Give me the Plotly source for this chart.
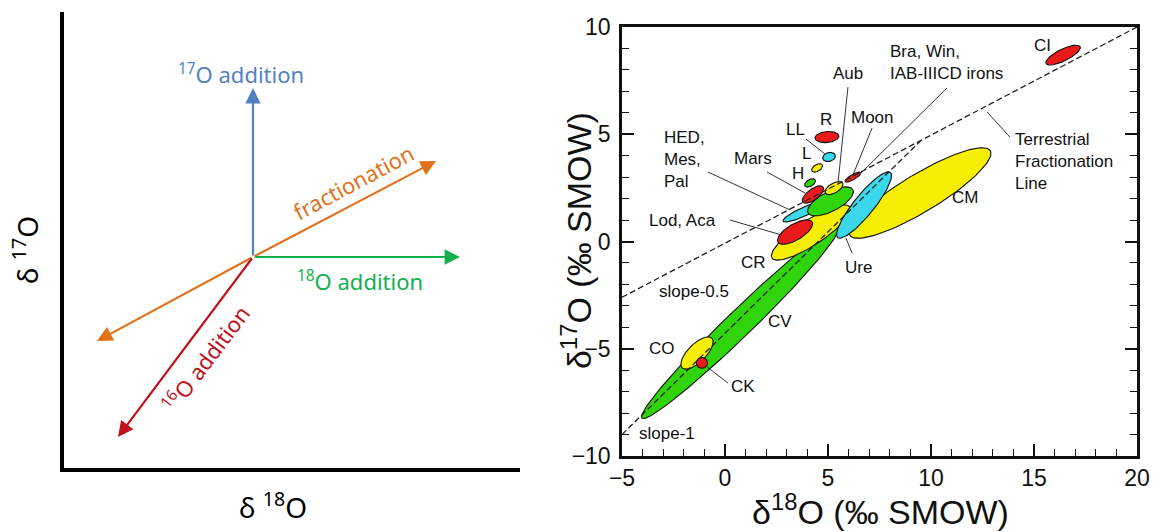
import numpy as np
import plotly.graph_objects as go

W, H = 1163, 532

# ---------------- Left panel: schematic isotope vectors (schematic units) ----------------
hub_x, hub_y = 253, 275
vec_names = ["17O addition", "18O addition", "fractionation (+)", "fractionation (-)", "16O addition"]
vec_tip_x = [253, 460, 436, 97, 118]
vec_tip_y = [444, 275, 371, 191, 95]
vec_colors = ["#5382c2", "#12b04f", "#e2711b", "#e2711b", "#c0121c"]
corner_x, corner_y = 62, 62
axis_top, axis_right = 520, 520

# ---------------- Right panel: oxygen three-isotope plot ----------------
groups = ["CV", "CO", "CK", "CM", "CR", "Ure", "Lod", "HED", "Win", "Mars",
          "Aub", "Moon", "H", "L", "LL", "R", "CI"]
center_d18 = [0.73, -1.36, -1.12, 9.47, 4.17, 6.75, 3.40, 3.79, 5.12, 4.27,
              5.29, 6.21, 4.13, 4.47, 5.05, 4.95, 16.41]
center_d17 = [-3.80, -5.20, -5.66, 2.26, 0.42, 1.70, 0.44, 1.37, 1.87, 2.19,
              2.49, 3.00, 2.73, 3.43, 3.94, 4.87, 8.69]
half_d18 = [4.76, 0.72, 0.27, 3.41, 1.89, 1.28, 0.83, 0.97, 1.09, 0.49,
            0.42, 0.38, 0.25, 0.25, 0.30, 0.58, 0.83]
half_d17 = [4.43, 0.69, 0.0, 1.97, 1.19, 1.52, 0.47, 0.42, 0.54, 0.35,
            0.23, 0.21, 0.14, 0.14, 0.08, 0.05, 0.39]
half_width = [0.62, 0.43, 0.26, 0.90, 0.60, 0.48, 0.38, 0.21, 0.47, 0.26,
              0.23, 0.12, 0.16, 0.16, 0.21, 0.26, 0.28]
group_kind = ["g", "y", "r", "y", "y", "c", "r", "c", "g", "r",
              "y", "r", "g", "y", "c", "r", "r"]

tfl_x = [-5, 20]
tfl_y = [-2.6, 10.0]
ccam_x = [-5, 9.5]
ccam_y = [-9.0, 4.7]

labels = ["CI", "CM", "Terrestrial<br>Fractionation<br>Line", "Bra, Win,<br>IAB-IIICD irons",
          "Aub", "Moon", "R", "LL", "L", "H", "Mars", "HED,<br>Mes,<br>Pal", "Lod, Aca",
          "CR", "Ure", "CV", "CO", "CK", "slope-1", "slope-0.5"]
label_x = [15.39, 11.65, 13.98, 7.91, 5.97, 7.18, 4.90, 3.40, 3.98, 3.54, 1.36, -3.06,
           -3.79, 1.36, 6.46, 2.67, -3.06, 0.87, -2.80, -1.50]
label_y = [9.16, 2.07, 3.71, 8.34, 7.81, 5.80, 5.71, 5.20, 4.08, 3.19, 3.85, 3.80,
           1.00, -0.96, -1.19, -3.75, -5.01, -6.78, -8.93, -2.35]
label_left = [False, False, True, True, False, False, False, False, False, False, False,
              True, True, False, False, False, False, False, False, False]

lead_x0 = [12.72, 10.78, 5.97, 7.14, 3.93, 2.04, -0.83, 0.24, 6.17, -0.87]
lead_y0 = [6.04, 7.16, 7.20, 5.29, 4.78, 3.24, 3.24, 1.00, -0.54, -5.85]
lead_x1 = [13.83, 6.36, 5.49, 6.21, 4.85, 3.88, 3.16, 2.77, 5.87, 0.15]
lead_y1 = [4.87, 2.96, 2.77, 3.10, 4.08, 2.26, 1.47, 0.30, 0.16, -6.60]

X_RANGE = [-5, 20]
Y_RANGE = [-10, 10]
X_DOM = [622 / W, 1137 / W]
Y_DOM = [76 / H, 505 / H]

fill = {"g": "#2fd40a", "y": "#f6ee05", "r": "#ec1b1b", "c": "#3ad8ec"}

fig = go.Figure()

# scales in pixels per permil
SX = (X_DOM[1] - X_DOM[0]) * W / (X_RANGE[1] - X_RANGE[0])
SY = (Y_DOM[1] - Y_DOM[0]) * H / (Y_RANGE[1] - Y_RANGE[0])
S = 0.5 * (SX + SY)
t = np.linspace(0, 2 * np.pi, 120)
for i, g in enumerate(groups):
    ux, uy = half_d18[i] * SX, half_d17[i] * SY
    L = np.hypot(ux, uy)
    nx, ny = -uy / L * half_width[i] * S, ux / L * half_width[i] * S
    px = np.cos(t) * ux + np.sin(t) * nx
    py = np.cos(t) * uy + np.sin(t) * ny
    fig.add_trace(go.Scatter(
        x=center_d18[i] + px / SX, y=center_d17[i] + py / SY,
        mode="lines", fill="toself", fillcolor=fill[group_kind[i]],
        line=dict(color="#111111", width=1.1), xaxis="x2", yaxis="y2",
        hoverinfo="skip", showlegend=False, name=g))

for lx, ly in [(tfl_x, tfl_y), (ccam_x, ccam_y)]:
    fig.add_trace(go.Scatter(x=lx, y=ly, mode="lines",
                             line=dict(color="#222222", width=1.3, dash="6px,3px"),
                             xaxis="x2", yaxis="y2", hoverinfo="skip", showlegend=False))

lx, ly = [], []
for a, b, c, d in zip(lead_x0, lead_y0, lead_x1, lead_y1):
    lx += [a, c, None]
    ly += [b, d, None]
fig.add_trace(go.Scatter(x=lx, y=ly, mode="lines", line=dict(color="#333333", width=1),
                         xaxis="x2", yaxis="y2", hoverinfo="skip", showlegend=False))

# invisible trace for left axes
fig.add_trace(go.Scatter(x=[hub_x], y=[hub_y], mode="markers", marker=dict(size=1, opacity=0),
                         xaxis="x", yaxis="y", hoverinfo="skip", showlegend=False))

ann = []
for i, txt in enumerate(labels):
    ann.append(dict(x=label_x[i], y=label_y[i], xref="x2", yref="y2", text=txt,
                    showarrow=False, align="left" if label_left[i] else "center",
                    xanchor="left" if label_left[i] else "center", yanchor="middle",
                    font=dict(family="Liberation Sans, Arial", size=17, color="#111111")))

# left arrows
for i in range(len(vec_names)):
    ann.append(dict(x=vec_tip_x[i], y=vec_tip_y[i], xref="x", yref="y",
                    ax=hub_x, ay=hub_y, axref="x", ayref="y", text="",
                    showarrow=True, arrowhead=2, arrowsize=1.4, arrowwidth=2.2,
                    arrowcolor=vec_colors[i], standoff=0, startstandoff=0))

lf = "Noto Sans, Open Sans, sans-serif"
ann += [
    dict(x=241, y=459, xref="x", yref="y", text="<sup>17</sup>O addition", showarrow=False,
         font=dict(family=lf, size=22, color=vec_colors[0])),
    dict(x=353, y=350, xref="x", yref="y", text="fractionation", showarrow=False, textangle=-28,
         font=dict(family=lf, size=22, color=vec_colors[2])),
    dict(x=360, y=252, xref="x", yref="y", text="<sup>18</sup>O addition", showarrow=False,
         font=dict(family=lf, size=22, color=vec_colors[1])),
    dict(x=205, y=174, xref="x", yref="y", text="<sup>16</sup>O addition", showarrow=False,
         textangle=-53, font=dict(family=lf, size=22, color=vec_colors[4])),
    dict(x=25, y=282, xref="x", yref="y", text="δ <sup>17</sup>O", showarrow=False, textangle=-90,
         font=dict(family=lf, size=28, color="black")),
    dict(x=273, y=27, xref="x", yref="y", text="δ <sup>18</sup>O", showarrow=False,
         font=dict(family=lf, size=28, color="black")),
    dict(x=880 / W, y=(H - 509) / H, xref="paper", yref="paper", xanchor="center",
         yanchor="middle", text="δ<sup>18</sup>O (‰ SMOW)", showarrow=False,
         font=dict(family="Liberation Sans, Arial", size=34, color="#111111")),
    dict(x=576 / W, y=(H - 241) / H, xref="paper", yref="paper", xanchor="center",
         yanchor="middle", text="δ<sup>17</sup>O (‰ SMOW)", showarrow=False, textangle=-90,
         font=dict(family="Liberation Sans, Arial", size=34, color="#111111")),
]

shapes = [
    dict(type="line", xref="x", yref="y", x0=corner_x, y0=corner_y, x1=corner_x, y1=axis_top,
         line=dict(color="black", width=4)),
    dict(type="line", xref="x", yref="y", x0=corner_x - 2, y0=corner_y, x1=axis_right, y1=corner_y,
         line=dict(color="black", width=4)),
]

tickfont = dict(family="Liberation Sans, Arial", size=23, color="#111111")
fig.update_layout(
    width=W, height=H, margin=dict(l=0, r=0, t=0, b=0, pad=0, autoexpand=False),
    paper_bgcolor="white", plot_bgcolor="white",
    xaxis=dict(domain=[0, 520 / W], range=[0, 520], visible=False, fixedrange=True,
               automargin=False),
    yaxis=dict(domain=[0, 1], range=[0, H], visible=False, fixedrange=True, anchor="x",
               automargin=False),
    xaxis2=dict(domain=X_DOM, range=X_RANGE, anchor="y2", showline=True, linewidth=2.5,
                linecolor="#111111", mirror=True, ticks="inside", ticklen=12, tickwidth=1.5,
                tickcolor="#111111", tick0=-5, dtick=5, tickfont=tickfont, showgrid=False,
                zeroline=False, automargin=False,
                minor=dict(dtick=1, tick0=-5, ticks="inside", ticklen=7, tickwidth=1.3,
                           tickcolor="#111111", showgrid=False)),
    yaxis2=dict(domain=Y_DOM, range=Y_RANGE, anchor="x2", showline=True, linewidth=2.5,
                linecolor="#111111", mirror="ticks", ticks="inside", ticklen=12, tickwidth=1.5,
                tickcolor="#111111", tick0=-10, dtick=5, tickfont=tickfont, showgrid=False,
                zeroline=False, ticklabelstandoff=4, automargin=False,
                minor=dict(dtick=1, tick0=-10, ticks="inside", ticklen=7, tickwidth=1.3,
                           tickcolor="#111111", showgrid=False)),
    annotations=ann, shapes=shapes, showlegend=False,
)

fig.write_html("out.html")
